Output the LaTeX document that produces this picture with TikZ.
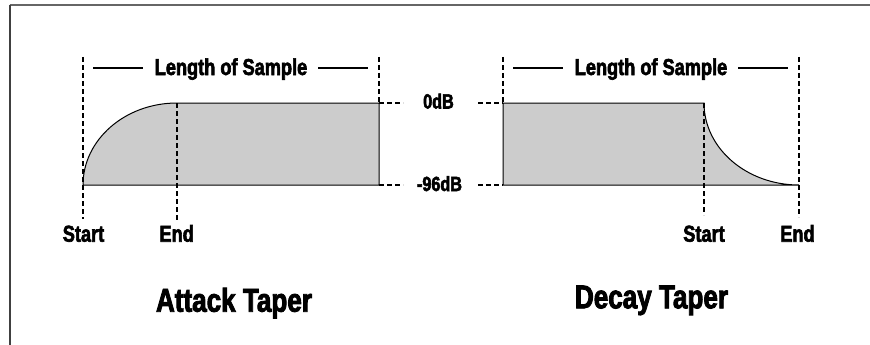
\documentclass[tikz,border=0pt]{standalone}
\usepackage{fontspec}
\newfontfamily\labfont[FakeStretch=0.79, FakeBold=2.6]{Liberation Sans}
\begin{document}
\begin{tikzpicture}[x=1pt,y=-1pt,line width=1pt,
  lab/.style={font=\labfont\bfseries\fontsize{23}{23}\selectfont, anchor=base, inner sep=0pt},
  dblab/.style={font=\labfont\bfseries\fontsize{20.5}{20.5}\selectfont, anchor=base, inner sep=0pt},
  ttl/.style={font=\labfont\bfseries\fontsize{33}{33}\selectfont, anchor=base, inner sep=0pt},
  guide/.style={dash pattern=on 5pt off 3pt, line width=1.1pt, draw=black},
  wave/.style={fill=black!20, draw=black, line width=1pt},
  rule/.style={line width=1.2pt, draw=black}]
\useasboundingbox (0,0) rectangle (870,345);
% frame
\coordinate (fTL) at (9.5,5);
\coordinate (fTR) at (870,5);
\coordinate (fBL) at (9.5,345);
\draw[line width=2pt, draw=black!60] (fTL) -- (fTR);
\draw[line width=2pt, draw=black!75] (fBL) -- (fTL);
% ---------- Attack taper ----------
\coordinate (aS) at (83,185);
\coordinate (aE) at (177,103);
\coordinate (aR0) at (379,103);
\coordinate (aR1) at (379,185);
\draw[wave] (aS) arc[start angle=180, end angle=90, x radius=94pt, y radius=82pt] -- (aR0) -- (aR1) -- cycle;
\coordinate (aTopL) at (83,57);
\coordinate (aBotL) at (83,219);
\coordinate (aTopR) at (379,57);
\coordinate (aEndB) at (177,221);
\draw[guide] (aTopL) -- (aBotL);
\draw[guide] (aTopR) -- (aR0);
\draw[guide] (aE) -- (aEndB);
\node[lab] (aLen) at (231,75) {Length of Sample};
\coordinate (aL1) at (93,68);
\coordinate (aL2) at (143,68);
\coordinate (aL3) at (318,68);
\coordinate (aL4) at (368,68);
\draw[rule] (aL1) -- (aL2);
\draw[rule] (aL3) -- (aL4);
\node[lab] (aStart) at (83.5,241.7) {Start};
\node[lab] (aEnd) at (176.7,241.7) {End};
\node[ttl] (aTitle) at (234,311.7) {Attack Taper};
% ---------- dB labels ----------
\node[dblab] (z0) at (438.5,108.5) {0dB};
\node[dblab] (z96) at (439.5,191) {-96dB};
\coordinate (m0a) at (403,103);
\coordinate (m0b) at (478,103);
\coordinate (m1a) at (403,185);
\coordinate (m1b) at (478,185);
% ---------- Decay taper ----------
\coordinate (dB) at (503,185);
\coordinate (dT) at (503,103);
\coordinate (dS) at (704,103);
\coordinate (dE) at (799,185);
\draw[wave] (dB) -- (dT) -- (dS) arc[start angle=180, end angle=270, x radius=95pt, y radius=82pt] -- cycle;
\draw[guide] (aR0) -- (m0a);
\draw[guide] (m0b) -- (dT);
\draw[guide] (aR1) -- (m1a);
\draw[guide] (m1b) -- (dB);
\coordinate (dTopL) at (503,57);
\coordinate (dStartB) at (704,215);
\coordinate (dTopR) at (799,57);
\coordinate (dEndB) at (799,217);
\draw[guide] (dTopL) -- (dT);
\draw[guide] (dS) -- (dStartB);
\draw[guide] (dTopR) -- (dEndB);
\node[lab] (dLen) at (651,75) {Length of Sample};
\coordinate (dL1) at (513,68);
\coordinate (dL2) at (563,68);
\coordinate (dL3) at (738,68);
\coordinate (dL4) at (788,68);
\draw[rule] (dL1) -- (dL2);
\draw[rule] (dL3) -- (dL4);
\node[lab] (dStart) at (704,241.7) {Start};
\node[lab] (dEnd) at (797.5,241.7) {End};
\node[ttl] (dTitle) at (651.5,308.3) {Decay Taper};
\end{tikzpicture}
\end{document}
